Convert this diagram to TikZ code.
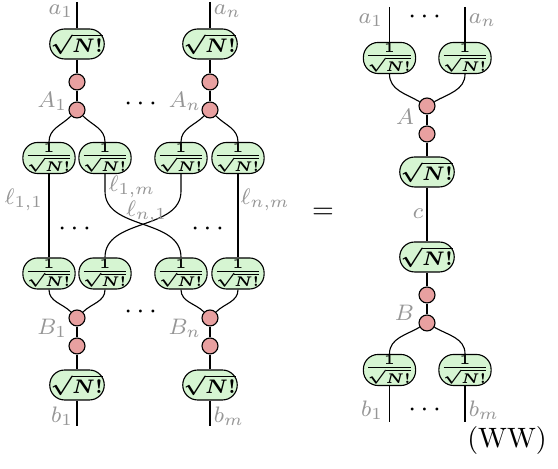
\documentclass[tikz,border=0pt]{standalone}
\usepackage{amsmath}
\definecolor{boxgreen}{RGB}{214,245,210}
\definecolor{dotred}{RGB}{232,160,160}
\definecolor{lblgray}{RGB}{150,150,150}
\begin{document}
\begin{tikzpicture}[x=0.357pt,y=-0.357pt,
  big/.style={draw, fill=boxgreen, rounded corners=5.3pt, minimum width=18.6pt, minimum height=10.7pt, inner sep=0.5pt, font=\scriptsize\boldmath},
  small/.style={draw, fill=boxgreen, rounded corners=5.3pt, minimum width=16pt, minimum height=10.7pt, inner sep=0.5pt, font=\scriptsize\boldmath},
  spider/.style={circle, draw, fill=dotred, minimum size=5.7pt, inner sep=0pt},
  lbl/.style={text=lblgray, font=\footnotesize, inner sep=0.5pt},
  dotsnode/.style={inner sep=0pt}]
\useasboundingbox (0,0) rectangle (558,469);
% ---------- left diagram ----------
\coordinate (ta1) at (77,2);
\coordinate (ta2) at (210,2);
\node[big] (n1) at (77,44) {$\sqrt{N!}$};
\node[big] (n2) at (210,44) {$\sqrt{N!}$};
\node[spider] (s1) at (77,82) {};
\node[spider] (s2) at (210,82) {};
\node[spider] (A1) at (77,110) {};
\node[spider] (A2) at (210,110) {};
\node[small] (u11) at (49,158) {$\frac{1}{\sqrt{N!}}$};
\node[small] (u12) at (105,158) {$\frac{1}{\sqrt{N!}}$};
\node[small] (u21) at (181,158) {$\frac{1}{\sqrt{N!}}$};
\node[small] (u22) at (238,158) {$\frac{1}{\sqrt{N!}}$};
\node[small] (l11) at (49,273.5) {$\frac{1}{\sqrt{N!}}$};
\node[small] (l12) at (105,273.5) {$\frac{1}{\sqrt{N!}}$};
\node[small] (l21) at (181,273.5) {$\frac{1}{\sqrt{N!}}$};
\node[small] (l22) at (238,273.5) {$\frac{1}{\sqrt{N!}}$};
\node[spider] (B1) at (77,318) {};
\node[spider] (B2) at (210,318) {};
\node[spider] (t1) at (77,346) {};
\node[spider] (t2) at (210,346) {};
\node[big] (m1) at (77,385) {$\sqrt{N!}$};
\node[big] (m2) at (210,385) {$\sqrt{N!}$};
\coordinate (tb1) at (77,426);
\coordinate (tb2) at (210,426);
\draw (ta1) -- (n1) -- (s1) -- (A1);
\draw (ta2) -- (n2) -- (s2) -- (A2);
\draw (A1) to[out=-135,in=90] (u11.north);
\draw (A1) to[out=-45,in=90] (u12.north);
\draw (A2) to[out=-135,in=90] (u21.north);
\draw (A2) to[out=-45,in=90] (u22.north);
\draw (u11) -- (l11);
\draw (u22) -- (l22);
\draw (u12.south) -- ++(0,17) to[out=-90,in=90] (l21.north);
\draw (u21.south) -- ++(0,17) to[out=-90,in=90] (l12.north);
\draw (l11.south) to[out=-90,in=135] (B1);
\draw (l12.south) to[out=-90,in=45] (B1);
\draw (l21.south) to[out=-90,in=135] (B2);
\draw (l22.south) to[out=-90,in=45] (B2);
\draw (B1) -- (t1) -- (m1) -- (tb1);
\draw (B2) -- (t2) -- (m2) -- (tb2);
\node[lbl, anchor=east] (la1) at (75,11) {$a_1$};
\node[lbl, anchor=west] (lan) at (212,11) {$a_n$};
\node[lbl, anchor=east] (lA1) at (69,101) {$A_1$};
\node[lbl, anchor=east] (lAn) at (203,101) {$A_n$};
\node[lbl, anchor=east] (ll11) at (45,200) {$\ell_{1,1}$};
\node[lbl, anchor=west] (ll1m) at (107,187) {$\ell_{1,m}$};
\node[lbl, anchor=east] (lln1) at (169,212) {$\ell_{n,1}$};
\node[lbl, anchor=west] (llnm) at (239,200) {$\ell_{n,m}$};
\node[lbl, anchor=east] (lB1) at (69,328) {$B_1$};
\node[lbl, anchor=east] (lBn) at (203,328) {$B_n$};
\node[lbl, anchor=east] (lb1) at (75,416) {$b_1$};
\node[lbl, anchor=west] (lbm) at (212,416) {$b_m$};
\node[dotsnode] (d1) at (143,104) {$\cdots$};
\node[dotsnode] (d2) at (77,229) {$\cdots$};
\node[dotsnode] (d3) at (210,229) {$\cdots$};
\node[dotsnode] (d4) at (143,312) {$\cdots$};
% ---------- equals ----------
\node (eq) at (323,213) {$=$};
% ---------- right diagram ----------
\coordinate (ra1) at (389.5,7);
\coordinate (ra2) at (465,7);
\node[small] (r1) at (389.5,58) {$\frac{1}{\sqrt{N!}}$};
\node[small] (r2) at (465,58) {$\frac{1}{\sqrt{N!}}$};
\node[spider] (A) at (427,106) {};
\node[spider] (rs1) at (427,134) {};
\node[big] (rn1) at (427,172) {$\sqrt{N!}$};
\node[big] (rn2) at (427,257) {$\sqrt{N!}$};
\node[spider] (rs2) at (427,295) {};
\node[spider] (B) at (427,323) {};
\node[small] (rb1) at (389.5,370) {$\frac{1}{\sqrt{N!}}$};
\node[small] (rb2) at (465,370) {$\frac{1}{\sqrt{N!}}$};
\coordinate (rt1) at (389.5,422);
\coordinate (rt2) at (465,422);
\draw (ra1) -- (r1);
\draw (ra2) -- (r2);
\draw (r1.south) to[out=-90,in=150] (A);
\draw (r2.south) to[out=-90,in=30] (A);
\draw (A) -- (rs1) -- (rn1) -- (rn2) -- (rs2) -- (B);
\draw (B) to[out=-150,in=90] (rb1.north);
\draw (B) to[out=-30,in=90] (rb2.north);
\draw (rb1) -- (rt1);
\draw (rb2) -- (rt2);
\node[lbl, anchor=east] (ra1l) at (385,20) {$a_1$};
\node[lbl, anchor=west] (ranl) at (467,20) {$a_n$};
\node[dotsnode] (rd1) at (427,17) {$\cdots$};
\node[lbl, anchor=east] (rAl) at (416,117) {$A$};
\node[lbl] (rcl) at (418,214) {$c$};
\node[lbl, anchor=east] (rBl) at (416,313) {$B$};
\node[lbl, anchor=east] (rb1l) at (385,410) {$b_1$};
\node[lbl, anchor=west] (rbml) at (467,410) {$b_m$};
\node[dotsnode] (rd2) at (427,410) {$\cdots$};
\node (ww) at (507,441) {(WW)};
\end{tikzpicture}
\end{document}
